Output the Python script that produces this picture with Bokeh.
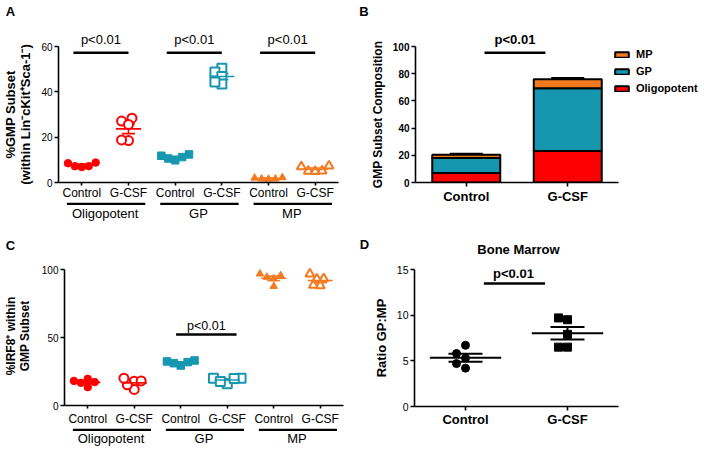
import numpy as np
from bokeh.plotting import figure
from bokeh.layouts import row, column
from bokeh.models import (ColumnDataSource, FixedTicker, Label, Whisker, TeeHead,
                          Legend, LegendItem, Range1d, LinearAxis)
from bokeh.embed import file_html
from bokeh.resources import INLINE

FONT = "Liberation Sans"
RED, TEAL, ORANGE = "#FF0000", "#1796B0", "#F47A20"

# ---------------- data ----------------
treatments = ["Control", "G-CSF"]
subsets = ["Oligopotent", "GP", "MP"]

# A: %GMP subset (within Lin-cKit+Sca-1-)
a_oligo_control = [8.8, 7.2, 6.8, 7.2, 8.5]
a_oligo_gcsf = [27.1, 28.4, 25.6, 18.5, 18.8]
a_gp_control = [12.4, 11.2, 9.8, 10.6, 11.8]
a_gp_gcsf = [50.4, 48.7, 46.8, 43.5, 44.3]
a_mp_control = [2.2, 1.6, 1.5, 1.6, 2.0]
a_mp_gcsf = [7.3, 5.0, 4.9, 5.1, 7.0]
a_yticks = [0, 20, 40, 60]
a_pvalue_groups = ["Oligopotent", "GP", "MP"]

# B: GMP subset composition (stacked means with SEM)
b_oligo_mean = [7.0, 23.2]
b_oligo_sem = [0.5, 2.2]
b_gp_mean = [11.0, 46.1]
b_gp_sem = [0.6, 1.6]
b_mp_mean = [2.4, 6.7]
b_mp_sem = [0.3, 0.5]
b_yticks = [0, 20, 40, 60, 80, 100]

# C: %IRF8+ within GMP subset
c_oligo_control = [19.6, 17.2, 13.5, 16.7, 18.1]
c_oligo_gcsf = [17.9, 11.8, 15.2, 20.1, 18.1]
c_gp_control = [33.1, 31.9, 29.4, 31.1, 32.4]
c_gp_gcsf = [20.1, 20.0, 16.0, 17.6, 19.8]
c_mp_control = [95.6, 87.7, 94.4, 96.8, 93.2]
c_mp_gcsf = [93.2, 88.2, 96.8, 88.4, 93.0]
c_yticks = [0, 50, 100]
c_pvalue_groups = ["GP"]

# D: Bone marrow ratio GP:MP
d_control = [6.7, 5.8, 5.3, 4.7, 4.2]
d_gcsf = [9.5, 9.7, 7.9, 6.5, 6.5]
d_yticks = [0, 5, 10, 15]

PANEL_LETTERS = ["A", "B", "C", "D"]
D_TITLE = "Bone Marrow"

# ---------------- layout (page pixels) ----------------
# ox, oy: figure origin; W, H: figure size; L, R, T, B: frame edges
GA = dict(ox=0, oy=20, W=360, H=182, L=55, R=338, T=46, B=182, xr=(-0.5, 5.5), yr=(0, 60))
GB = dict(ox=360, oy=20, W=344, H=206, L=415, R=704, T=46, B=182,
          xr=(-0.5, -0.5 + 2 * (704 - 415) / (618 - 415)), yr=(0, 100))
GC = dict(ox=0, oy=258, W=360, H=170, L=60, R=343, T=266, B=405,
          xr=(-0.5, 5.5), yr=(0, 100 * (405 - 266) / (405 - 269)))
GD = dict(ox=360, oy=258, W=344, H=194, L=414, R=618, T=269, B=406, xr=(-0.5, 1.5), yr=(0, 15))


def to_data(g, sx, sy):
    x0, x1 = g["xr"]
    y0, y1 = g["yr"]
    return (x0 + (sx - g["L"]) / (g["R"] - g["L"]) * (x1 - x0),
            y1 - (sy - g["T"]) / (g["B"] - g["T"]) * (y1 - y0))


def ppu(g):
    return ((g["R"] - g["L"]) / (g["xr"][1] - g["xr"][0]),
            (g["B"] - g["T"]) / (g["yr"][1] - g["yr"][0]))


def make_fig(g, xticks, xlabels, yticks, ylabel, xsize, xstyle, xstandoff, xtick_out,
             ysize, ystyle, ylabel_size, ylabel_standoff, xbounds="auto", ybounds="auto"):
    p = figure(width=g["W"], height=g["H"],
               x_range=Range1d(*g["xr"]), y_range=Range1d(*g["yr"]),
               min_border_left=g["L"] - g["ox"], min_border_right=g["ox"] + g["W"] - g["R"],
               min_border_top=g["T"] - g["oy"], min_border_bottom=g["oy"] + g["H"] - g["B"],
               output_backend="svg", toolbar_location=None, outline_line_color=None)
    p.grid.visible = False
    for ax in (p.xaxis[0], p.yaxis[0]):
        ax.axis_line_width = 1.6
        ax.axis_line_color = "black"
        ax.major_tick_line_width = 1.6
        ax.major_tick_line_color = "black"
        ax.major_tick_in = 0
        ax.major_tick_out = 4
        ax.minor_tick_line_color = None
        ax.major_label_text_font = FONT
        ax.major_label_text_color = "black"
        ax.axis_label_text_font = FONT
    xa = p.xaxis[0]
    xa.ticker = FixedTicker(ticks=xticks)
    xa.major_label_overrides = {t: lab for t, lab in zip(xticks, xlabels)}
    xa.major_label_text_font_size = xsize
    xa.major_label_text_font_style = xstyle
    xa.major_label_standoff = xstandoff
    xa.major_tick_out = xtick_out
    xa.bounds = xbounds
    ya = p.yaxis[0]
    ya.ticker = FixedTicker(ticks=yticks)
    ya.major_label_text_font_size = ysize
    ya.major_label_text_font_style = ystyle
    ya.major_label_standoff = 2
    ya.bounds = ybounds
    ya.axis_label = ylabel
    ya.axis_label_text_font_size = ylabel_size
    ya.axis_label_text_font_style = "bold"
    ya.axis_label_text_color = "black"
    ya.axis_label_text_line_height = 1.0
    ya.axis_label_standoff = ylabel_standoff
    return p


def add_top_labels(p, xs, texts, size, style):
    ax = LinearAxis(ticker=FixedTicker(ticks=list(xs)),
                    major_label_overrides={x: t for x, t in zip(xs, texts)},
                    axis_line_color=None, major_tick_line_color=None,
                    minor_tick_line_color=None, major_tick_in=0, major_tick_out=0,
                    major_label_standoff=0, major_label_text_font=FONT,
                    major_label_text_font_size=size, major_label_text_font_style=style,
                    major_label_text_color="black")
    p.add_layout(ax, "above")


def swarm_offsets(vals, yppu, diam, step):
    order = np.argsort(vals)
    placed = []
    res = [0.0] * len(vals)
    cands = [0.0]
    for m in range(1, 14):
        cands += [-m * step, m * step]
    for i in order:
        y = vals[i] * yppu
        for c in cands:
            if all((c - ox) ** 2 + (y - oy) ** 2 >= diam ** 2 for ox, oy in placed):
                res[i] = c
                placed.append((c, y))
                break
    return res


def add_label(p, x, y, text, size, style="normal", align="center"):
    p.add_layout(Label(x=x, y=y, text=text, text_align=align, text_baseline="middle",
                       text_font=FONT, text_font_size=size, text_font_style=style,
                       text_color="black"))


def mean_sem(vals):
    v = np.asarray(vals, dtype=float)
    return float(v.mean()), float(v.std(ddof=1) / np.sqrt(len(v)))


def add_mean_sem(p, x, vals, color, half, cap, lw):
    m, s = mean_sem(vals)
    p.segment(x0=[x - half], x1=[x + half], y0=[m], y1=[m], line_color=color, line_width=lw)
    src = ColumnDataSource(dict(base=[x], lo=[m - s], hi=[m + s]))
    p.add_layout(Whisker(source=src, base="base", lower="lo", upper="hi", dimension="height",
                         line_color=color, line_width=lw,
                         lower_head=TeeHead(size=cap, line_color=color, line_width=lw),
                         upper_head=TeeHead(size=cap, line_color=color, line_width=lw)))


def strip_fig(width, height, x_range=None, left=0, right=0):
    p = figure(width=width, height=height,
               x_range=x_range if x_range is not None else Range1d(0, width),
               y_range=Range1d(height, 0), x_axis_type=None, y_axis_type=None,
               min_border_left=left, min_border_right=right, min_border_top=0,
               min_border_bottom=0, output_backend="svg", toolbar_location=None,
               outline_line_color=None)
    p.grid.visible = False
    return p


MARK = {"Oligopotent": ("circle", RED), "GP": ("square", TEAL), "MP": ("triangle", ORANGE)}


def scatter_panel(g, series, yticks, ylabel, ylabel_size, ylabel_standoff, xstandoff,
                  pgroups, p_span, p_size, p_line_py, p_text_py, ybounds="auto"):
    xppu, yppu = ppu(g)
    p = make_fig(g, list(range(6)), treatments * 3, yticks, ylabel, "12px", "normal", xstandoff,
                 3, "10px", "normal", ylabel_size, ylabel_standoff, ybounds=ybounds)
    for gi, name in enumerate(subsets):
        marker, color = MARK[name]
        for ti in range(2):
            vals = series[name][ti]
            x = 2 * gi + ti
            offs = swarm_offsets(vals, yppu, 7.0, 3.5)
            xs = [x + o / xppu for o in offs]
            if ti == 0:
                p.scatter(x=xs, y=vals, marker=marker, size=7.5, fill_color=color,
                          line_color=color, line_width=1)
            else:
                p.scatter(x=xs, y=vals, marker=marker, size=9, fill_color="white",
                          line_color=color, line_width=2)
            add_mean_sem(p, x, vals, color, 0.27, 13, 1.6)
    centers = []
    for name in pgroups:
        gi = subsets.index(name)
        _, ly = to_data(g, 0, p_line_py)
        x0, x1 = 2 * gi + p_span[0], 2 * gi + 1 + p_span[1]
        p.segment(x0=[x0], x1=[x1], y0=[ly], y1=[ly], line_color="black", line_width=2.5)
        centers.append((x0 + x1) / 2)
        if p_text_py is not None:
            _, ty = to_data(g, 0, p_text_py)
            add_label(p, (x0 + x1) / 2, ty, "p<0.01", p_size)
    if p_text_py is None:
        add_top_labels(p, centers, ["p<0.01"] * len(centers), p_size, "normal")
    return p


def group_footer(p, g, height, under_y, label_y):
    f = strip_fig(g["W"], height, x_range=p.x_range, left=g["L"] - g["ox"],
                  right=g["ox"] + g["W"] - g["R"])
    for gi, name in enumerate(subsets):
        f.segment(x0=[2 * gi - 0.32], x1=[2 * gi + 1.36], y0=[under_y], y1=[under_y],
                  line_color="black", line_width=2.5)
        add_label(f, 2 * gi + 0.5, label_y, name, "13px")
    return f


# ---------------- panel A ----------------
pA = scatter_panel(
    GA,
    {"Oligopotent": (a_oligo_control, a_oligo_gcsf), "GP": (a_gp_control, a_gp_gcsf),
     "MP": (a_mp_control, a_mp_gcsf)},
    a_yticks, "%GMP Subset\n(within Lin\u207bcKit\u207aSca-1\u207b)", "13px", 5, 0,
    a_pvalue_groups, (-0.18, 0.0), "13px", 52.3, None)
fA = group_footer(pA, GA, 24, 1.3, 11.3)

# ---------------- panel C ----------------
pC = scatter_panel(
    GC,
    {"Oligopotent": (c_oligo_control, c_oligo_gcsf), "GP": (c_gp_control, c_gp_gcsf),
     "MP": (c_mp_control, c_mp_gcsf)},
    c_yticks, "%IRF8\u207a within\nGMP Subset", "12px", 7, 3,
    c_pvalue_groups, (-0.1, 0.2), "12.5px", 334.0, 325.0, ybounds=(0, 100))
fC = group_footer(pC, GC, 24, 1.3, 10.3)

# ---------------- panel B ----------------
pB = make_fig(GB, [0, 1], treatments, b_yticks, "GMP Subset Composition", "13px", "bold", 2, 4,
              "10px", "bold", "12px", 5, xbounds=(-0.5, 1.5))
srcB = ColumnDataSource(dict(x=[0, 1], oligo=b_oligo_mean, gp=b_gp_mean, mp=b_mp_mean))
rs = pB.vbar_stack(["oligo", "gp", "mp"], x="x", width=0.67, source=srcB,
                   fill_color=[RED, TEAL, ORANGE], line_color="black", line_width=2)
base_top = np.zeros(2)
for means, sems in ((b_oligo_mean, b_oligo_sem), (b_gp_mean, b_gp_sem), (b_mp_mean, b_mp_sem)):
    top = base_top + np.asarray(means)
    src = ColumnDataSource(dict(base=[0, 1], lo=list(top), hi=list(top + np.asarray(sems))))
    pB.add_layout(Whisker(source=src, base="base", lower="lo", upper="hi", dimension="height",
                          line_color="black", line_width=2.5, lower_head=None,
                          upper_head=TeeHead(size=33, line_color="black", line_width=3)))
    base_top = top
legB = Legend(items=[LegendItem(label="MP", renderers=[rs[2]]),
                     LegendItem(label="GP", renderers=[rs[1]]),
                     LegendItem(label="Oligopotent", renderers=[rs[0]])],
              location=(198, 87), padding=0, margin=0, spacing=3,
              glyph_width=17, glyph_height=7, label_height=14, label_standoff=6,
              label_text_font=FONT, label_text_font_size="11px", label_text_font_style="bold",
              label_text_color="black", border_line_color=None, background_fill_alpha=0)
pB.add_layout(legB)
_, bly = to_data(GB, 0, 52.3)
pB.segment(x0=[0.18], x1=[0.78], y0=[bly], y1=[bly], line_color="black", line_width=2.5)
add_top_labels(pB, [0.48], ["p<0.01"], "13px", "bold")

# ---------------- panel D ----------------
pD = make_fig(GD, [0, 1], treatments, d_yticks, "Ratio GP:MP", "13px", "bold", 1, 4,
              "10.5px", "normal", "13px", 5)
xppuD, yppuD = ppu(GD)
for ti, (vals, marker) in enumerate(((d_control, "circle"), (d_gcsf, "square"))):
    offs = swarm_offsets(vals, yppuD, 8.0, 4.5)
    xs = [ti + o / xppuD for o in offs]
    pD.scatter(x=xs, y=vals, marker=marker, size=8, fill_color="black", line_color="black")
    add_mean_sem(pD, ti, vals, "black", 0.35, 34, 2)
_, dly = to_data(GD, 0, 283)
pD.segment(x0=[0.18], x1=[0.78], y0=[dly], y1=[dly], line_color="black", line_width=2.5)
_, dty = to_data(GD, 0, 273)
add_label(pD, 0.47, dty, "p<0.01", "13px", "bold")

# ---------------- headers with panel letters ----------------
h1 = strip_fig(704, 20)
add_label(h1, 10, 11, PANEL_LETTERS[0], "13px", "bold")
add_label(h1, 363.5, 11, PANEL_LETTERS[1], "13px", "bold")
h2 = strip_fig(704, 32)
add_label(h2, 10, 19, PANEL_LETTERS[2], "13px", "bold")
add_label(h2, 364, 18, PANEL_LETTERS[3], "13px", "bold")
add_label(h2, (GD["L"] + GD["R"]) / 2 + 2, 23, D_TITLE, "13px", "bold")

layout = column(h1, row(column(pA, fA), pB), h2, row(column(pC, fC), pD))
open("out.html", "w").write(file_html(layout, INLINE))
